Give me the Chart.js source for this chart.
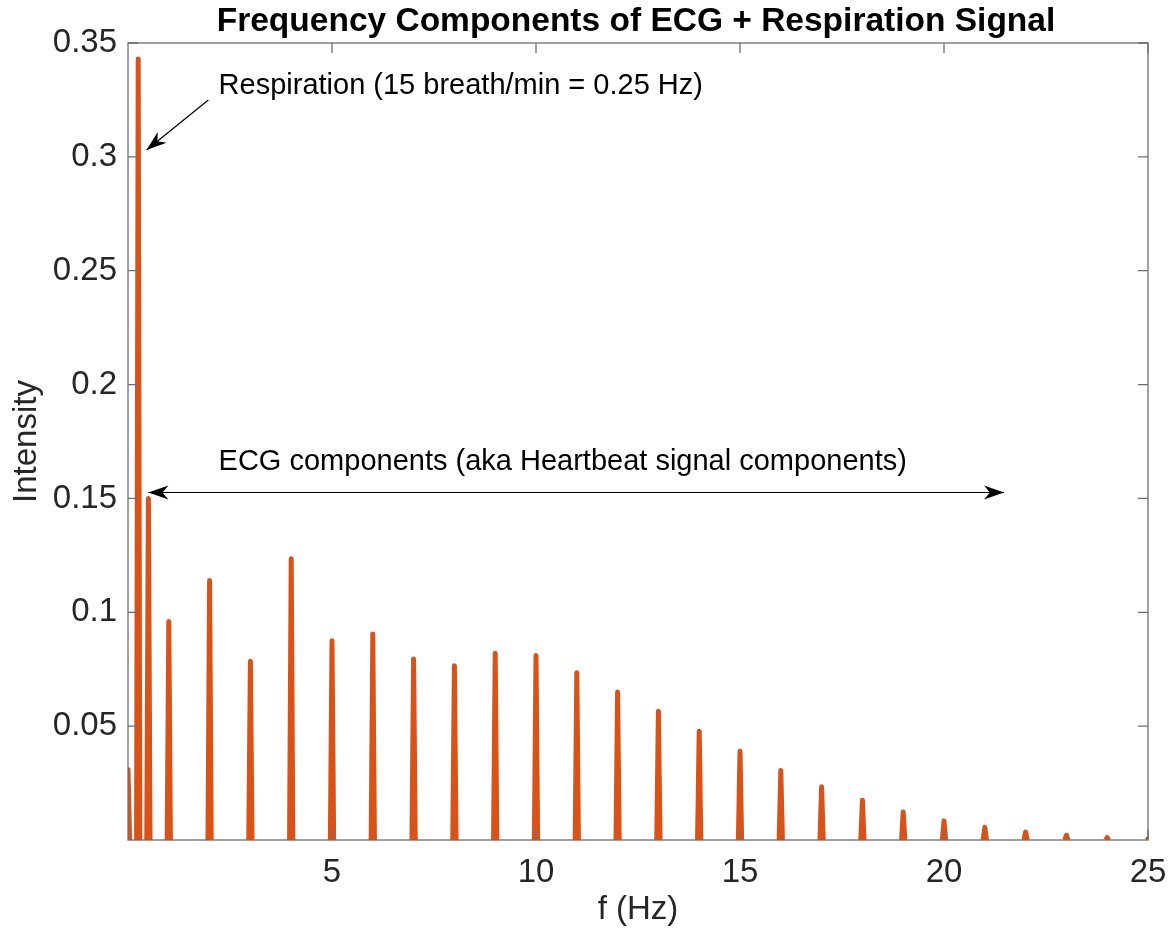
<!DOCTYPE html>
<html>
<head>
<meta charset="utf-8">
<script src="https://cdn.jsdelivr.net/npm/chart.js@4"></script>
<style>
  body { margin: 0; background: #fff; }
  #wrap { width: 1169px; height: 934px; }
</style>
</head>
<body>
<div id="wrap"><canvas id="chart" width="1169" height="934"></canvas></div>
<script>
// spectrum peaks
const freqs = [0, 0.25, 0.5, 1, 2, 3, 4, 5, 6, 7, 8, 9, 10, 11, 12, 13, 14, 15, 16, 17, 18, 19, 20, 21, 22, 23, 24, 25];
const intensity = [0.031, 0.343, 0.150, 0.096, 0.114, 0.0785, 0.1235, 0.0875, 0.0905, 0.0795, 0.0765, 0.082, 0.081, 0.0735,
    0.065, 0.0565, 0.0478, 0.039, 0.0305, 0.0234, 0.0175, 0.0123, 0.0084, 0.0056, 0.0035, 0.0021, 0.0011, 0.0005];

const xTicks = [5, 10, 15, 20, 25];
const yTicks = [0.05, 0.1, 0.15, 0.2, 0.25, 0.3, 0.35];
const yTickLabels = ['0.05', '0.1', '0.15', '0.2', '0.25', '0.3', '0.35'];

const chartTitle = 'Frequency Components of ECG + Respiration Signal';
const respText = 'Respiration (15 breath/min = 0.25 Hz)';
const ecgText = 'ECG components (aka Heartbeat signal components)';

const orange = '#D95319';
const axisGrey = '#6e6e6e';
const textGrey = '#262626';
const fontName = '"Liberation Sans", Arial, Helvetica, sans-serif';

// each peak is a narrow triangle, separated by gaps
const halfBase = 0.04;
const points = [];
freqs.forEach((f, i) => {
    points.push({ x: f - halfBase, y: 0 });
    points.push({ x: f, y: intensity[i] });
    points.push({ x: f + halfBase, y: 0 });
    points.push({ x: f, y: null });
});

function arrowHead(ctx, x1, y1, x2, y2, len, half) {
    const a = Math.atan2(y2 - y1, x2 - x1);
    ctx.save();
    ctx.translate(x2, y2);
    ctx.rotate(a);
    ctx.beginPath();
    ctx.moveTo(0, 0);
    ctx.lineTo(-len, half);
    ctx.lineTo(-len * 0.7, 0);
    ctx.lineTo(-len, -half);
    ctx.closePath();
    ctx.fill();
    ctx.restore();
}

const decorPlugin = {
    id: 'decor',
    afterDraw(chart) {
        const ctx = chart.ctx;
        const area = chart.chartArea;
        const xs = chart.scales.x;
        const ys = chart.scales.y;

        // box and inward ticks
        ctx.save();
        ctx.strokeStyle = axisGrey;
        ctx.lineWidth = 1.3;
        ctx.strokeRect(area.left, area.top, area.right - area.left, area.bottom - area.top);
        ctx.beginPath();
        xTicks.forEach(v => {
            const px = xs.getPixelForValue(v);
            ctx.moveTo(px, area.bottom); ctx.lineTo(px, area.bottom - 10);
            ctx.moveTo(px, area.top); ctx.lineTo(px, area.top + 10);
        });
        yTicks.forEach(v => {
            const py = ys.getPixelForValue(v);
            ctx.moveTo(area.left, py); ctx.lineTo(area.left + 10, py);
            ctx.moveTo(area.right, py); ctx.lineTo(area.right - 10, py);
        });
        ctx.stroke();
        ctx.restore();

        // title
        ctx.save();
        ctx.fillStyle = '#000';
        ctx.font = 'bold 33.5px ' + fontName;
        ctx.textAlign = 'center';
        ctx.textBaseline = 'middle';
        ctx.fillText(chartTitle, (area.left + area.right) / 2 - 2, 22);
        ctx.restore();

        // annotations
        ctx.save();
        ctx.fillStyle = '#000';
        ctx.strokeStyle = '#000';
        ctx.lineWidth = 1.2;
        ctx.font = '29px ' + fontName;
        ctx.textAlign = 'left';
        ctx.textBaseline = 'middle';
        ctx.fillText(respText, xs.getPixelForValue(2.22), ys.getPixelForValue(0.331));
        ctx.fillText(ecgText, xs.getPixelForValue(2.22), ys.getPixelForValue(0.1658));

        // respiration arrow
        const ax1 = xs.getPixelForValue(1.97), ay1 = ys.getPixelForValue(0.325);
        const ax2 = xs.getPixelForValue(0.455), ay2 = ys.getPixelForValue(0.303);
        ctx.beginPath();
        ctx.moveTo(ax1, ay1);
        ctx.lineTo(ax2, ay2);
        ctx.stroke();
        arrowHead(ctx, ax1, ay1, ax2, ay2, 20, 7);

        // ECG double arrow
        const bx1 = xs.getPixelForValue(0.5), bx2 = xs.getPixelForValue(21.47);
        const by = ys.getPixelForValue(0.1526);
        ctx.beginPath();
        ctx.moveTo(bx1, by);
        ctx.lineTo(bx2, by);
        ctx.stroke();
        arrowHead(ctx, bx2, by, bx1, by, 20, 7);
        arrowHead(ctx, bx1, by, bx2, by, 20, 7);
        ctx.restore();
    }
};

new Chart(document.getElementById('chart'), {
    type: 'line',
    data: {
        datasets: [{
            data: points,
            borderColor: orange,
            backgroundColor: orange,
            borderWidth: 5,
            borderJoinStyle: 'round',
            pointRadius: 0,
            spanGaps: false,
            tension: 0
        }]
    },
    options: {
        responsive: false,
        animation: false,
        layout: { padding: { top: 43, right: 21, left: 0, bottom: 0 } },
        plugins: {
            legend: { display: false },
            tooltip: { enabled: false }
        },
        scales: {
            x: {
                type: 'linear',
                min: 0,
                max: 25,
                afterFit: (scale) => {
                    scale.height = 94;
                    scale.paddingLeft = 0;
                    scale.paddingRight = 0;
                },
                afterBuildTicks: (scale) => { scale.ticks = xTicks.map(v => ({ value: v })); },
                grid: { display: false, drawTicks: false },
                border: { display: false },
                ticks: {
                    color: textGrey,
                    padding: 13,
                    maxRotation: 0,
                    font: { family: fontName, size: 33 },
                    callback: (v) => String(v)
                },
                title: {
                    display: true,
                    text: 'f (Hz)',
                    color: textGrey,
                    font: { family: fontName, size: 33 },
                    padding: { top: 0, bottom: 4 }
                }
            },
            y: {
                min: 0,
                max: 0.35,
                afterFit: (scale) => {
                    scale.width = 128;
                    scale.paddingTop = 0;
                    scale.paddingBottom = 0;
                },
                afterBuildTicks: (scale) => { scale.ticks = yTicks.map(v => ({ value: v })); },
                grid: { display: false, drawTicks: false },
                border: { display: false },
                ticks: {
                    color: textGrey,
                    padding: 11,
                    font: { family: fontName, size: 33 },
                    callback: (v) => {
                        const i = yTicks.findIndex(t => Math.abs(t - v) < 1e-9);
                        return i >= 0 ? yTickLabels[i] : '';
                    }
                },
                title: {
                    display: true,
                    text: 'Intensity',
                    color: textGrey,
                    font: { family: fontName, size: 33 },
                    padding: { top: 7, bottom: 0 }
                }
            }
        }
    },
    plugins: [decorPlugin]
});
</script>
</body>
</html>
